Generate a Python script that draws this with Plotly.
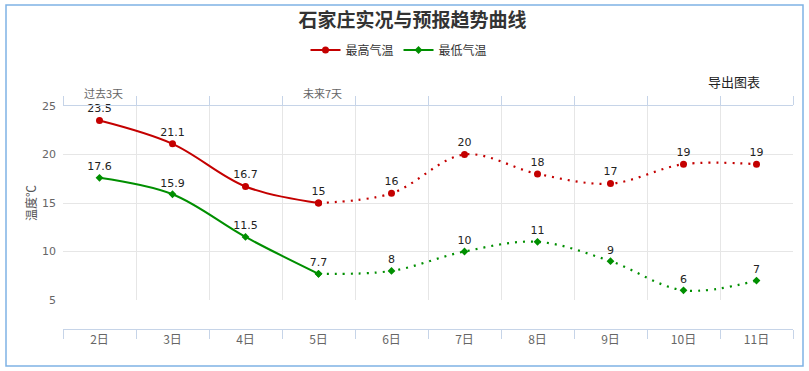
import plotly.graph_objects as go

days = ["2日", "3日", "4日", "5日", "6日", "7日", "8日", "9日", "10日", "11日"]
high = [23.5, 21.1, 16.7, 15, 16, 20, 18, 17, 19, 19]
low = [17.6, 15.9, 11.5, 7.7, 8, 10, 11, 9, 6, 7]
split = 3  # last observed index (5日)

RED = "#c40000"
GREEN = "#008f00"
CJK = "Noto Sans CJK SC"
NUM = "DejaVu Sans, Noto Sans CJK SC"

def fmt(v):
    return ("%g" % v)

fig = go.Figure()

def add_series(name, vals, color, symbol, msize):
    txt = [fmt(v) for v in vals]
    fig.add_trace(go.Scatter(
        x=days[:split + 1], y=vals[:split + 1], name=name,
        mode="lines+markers+text", text=txt[:split + 1],
        textposition="top center",
        textfont=dict(family=NUM, size=11, color="#222"),
        line=dict(color=color, width=2, shape="spline", smoothing=1.0),
        marker=dict(color=color, size=msize, symbol=symbol),
        legendgroup=name, cliponaxis=False,
    ))
    fig.add_trace(go.Scatter(
        x=days[split:], y=vals[split:], name=name, xaxis="x2",
        mode="lines+markers+text", text=[""] + txt[split + 1:],
        textposition="top center",
        textfont=dict(family=NUM, size=11, color="#222"),
        line=dict(color=color, width=2.2, shape="spline", smoothing=1.0,
                  dash="2px,6px"),
        marker=dict(color=color, size=msize, symbol=symbol),
        legendgroup=name, showlegend=False, cliponaxis=False,
    ))

add_series("最高气温", high, RED, "circle", 7)
add_series("最低气温", low, GREEN, "diamond", 6)

axis_blue = "#c6d4e8"
grid = "#e6e6e6"

L, R, T, B = 63, 16, 106, 42
PW, PH = 809 - L - R, 371 - T - B

def px(xp):
    return (xp - L) / PW

def py(yp):
    return (371 - B - yp) / PH

cat = dict(type="category", categoryorder="array", categoryarray=days,
           range=[-0.5, len(days) - 0.5], automargin=False,
           tickson="boundaries", ticks="outside", ticklen=9,
           tickcolor=axis_blue, showline=True, linecolor=axis_blue,
           linewidth=1, zeroline=False)

fig.update_layout(
    width=809, height=371,
    margin=dict(l=L, r=R, t=T, b=B, autoexpand=False),
    paper_bgcolor="white", plot_bgcolor="white",
    font=dict(family=CJK, size=12, color="#666"),
    title=dict(text="<b>石家庄实况与预报趋势曲线</b>", x=0.51, xanchor="center",
               y=1 - 20 / 371, yanchor="middle",
               font=dict(family=CJK, size=19, color="#333")),
    legend=dict(orientation="h", x=px(399), xanchor="center",
                y=py(50), yanchor="middle",
                font=dict(family=CJK, size=12, color="#333"),
                tracegroupgap=0),
    xaxis=dict(**cat, anchor="free", position=0, showgrid=False,
               tickfont=dict(family=CJK, size=12, color="#666")),
    xaxis2=dict(**cat, overlaying="x", side="top", anchor="y",
                showticklabels=False, showgrid=True, gridcolor=grid),
    yaxis=dict(domain=[py(300), 1], range=[5, 25], dtick=5, automargin=False,
               tick0=5, showgrid=True, gridcolor=grid, zeroline=False,
               showline=False, ticks="", ticklabelstandoff=6,
               tickfont=dict(family=NUM, size=11, color="#666"),
               title=dict(text="温度℃", standoff=2,
                          font=dict(family=CJK, size=12, color="#555"))),
    showlegend=True,
)

fig.add_annotation(text="过去3天", xref="paper", yref="paper",
                   x=px(103), y=py(83), xanchor="center", showarrow=False,
                   font=dict(family=CJK, size=11, color="#666"))
fig.add_annotation(text="未来7天", xref="paper", yref="paper",
                   x=px(322), y=py(83), xanchor="center", showarrow=False,
                   font=dict(family=CJK, size=11, color="#666"))
fig.add_annotation(text="导出图表", xref="paper", yref="paper",
                   x=px(734), y=py(70), xanchor="center", showarrow=False,
                   font=dict(family=CJK, size=13, color="#222"))

fig.add_shape(type="rect", xref="paper", yref="paper",
              x0=px(6), x1=px(803), y0=py(366), y1=py(5),
              line=dict(color="#7fb2e5", width=1.5), fillcolor="rgba(0,0,0,0)",
              layer="below")

fig.write_html("out.html", config={"displayModeBar": False},
               post_script="document.body.style.margin='0px';")
